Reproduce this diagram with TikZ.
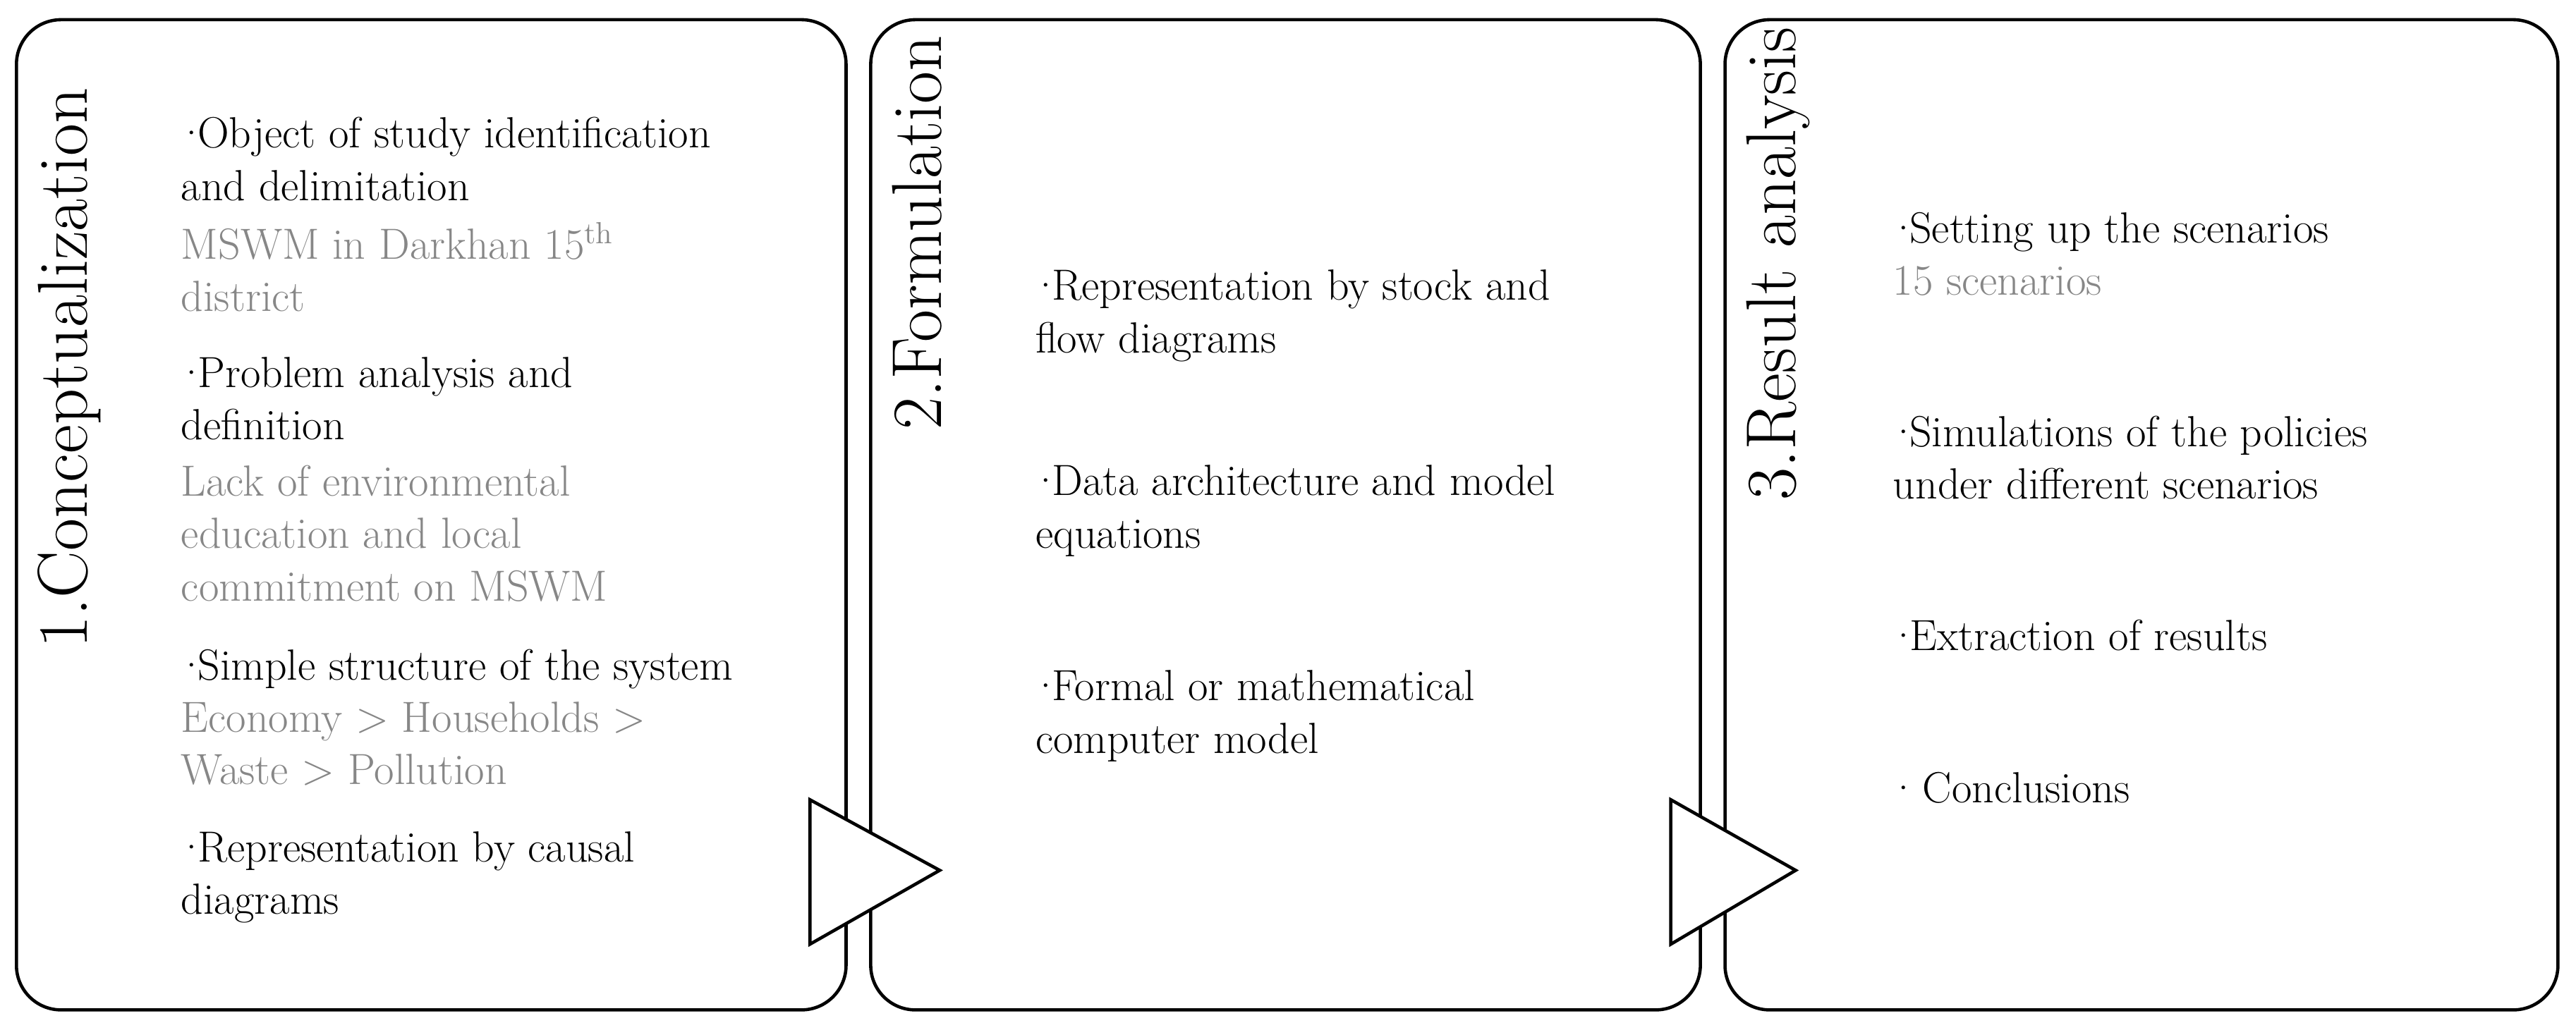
\documentclass[tikz,border=0pt]{standalone}
\definecolor{note}{HTML}{878787}
\newcommand{\bul}{\kern-0.12em\textperiodcentered\kern-0.22em}
\begin{document}
\begin{tikzpicture}[x=0.02329cm,y=-0.02329cm,
  box/.style={draw,line width=1.3pt,rounded corners=18pt},
  tri/.style={draw,fill=white,line width=1.3pt,line join=miter},
  title/.style={rotate=90,anchor=base west,inner sep=0,font=\fontsize{28.5}{32}\selectfont},
  body/.style={anchor=north west,inner sep=0,align=left,font=\fontsize{17.6}{21.2}\selectfont}]
\useasboundingbox (0,0) rectangle (1568,630);
\draw[box] (10,12) rectangle (515,615);
\draw[box] (530,12) rectangle (1035,615);
\draw[box] (1050,12) rectangle (1557,615);
\coordinate (t1a) at (493,487); \coordinate (t1b) at (493,575); \coordinate (t1c) at (572,530);
\coordinate (t2a) at (1017,487); \coordinate (t2b) at (1017,575); \coordinate (t2c) at (1093,530);
\draw[tri] (t1a) -- (t1c) -- (t1b) -- cycle;
\draw[tri] (t2a) -- (t2c) -- (t2b) -- cycle;
\node[title] (h1) at (53,395) {1.Conceptualization};
\node[title] (h2) at (573,262) {2.Formulation};
\node[title] (h3) at (1093,305) {3.Result analysis};
% box 1
\node[body] (a1) at (110,71) {\bul Object of study identification\\and delimitation};
\node[body,text=note] (a2) at (110,135) {MSWM in Darkhan 15\textsuperscript{th}\\district};
\node[body] (a3) at (110,217) {\bul Problem analysis and\\definition};
\node[body,text=note] (a4) at (110,283) {Lack of environmental\\education and local\\commitment on MSWM};
\node[body] (a5) at (110,395) {\bul Simple structure of the system};
\node[body,text=note] (a6) at (110,427) {Economy > Households >\\Waste > Pollution};
\node[body] (a7) at (110,506) {\bul Representation by causal\\diagrams};
% box 2
\node[body] (b1) at (630,164) {\bul Representation by stock and\\flow diagrams};
\node[body] (b2) at (630,283) {\bul Data architecture and model\\equations};
\node[body] (b3) at (630,408) {\bul Formal or mathematical\\computer model};
% box 3
\node[body] (c1) at (1152,129) {\bul Setting up the scenarios};
\node[body,text=note] (c2) at (1152,162) {15 scenarios};
\node[body] (c3) at (1152,253) {\bul Simulations of the policies\\under different scenarios};
\node[body] (c4) at (1152,377) {\bul Extraction of results};
\node[body] (c5) at (1152,470) {\bul{} Conclusions};
\end{tikzpicture}
\end{document}
